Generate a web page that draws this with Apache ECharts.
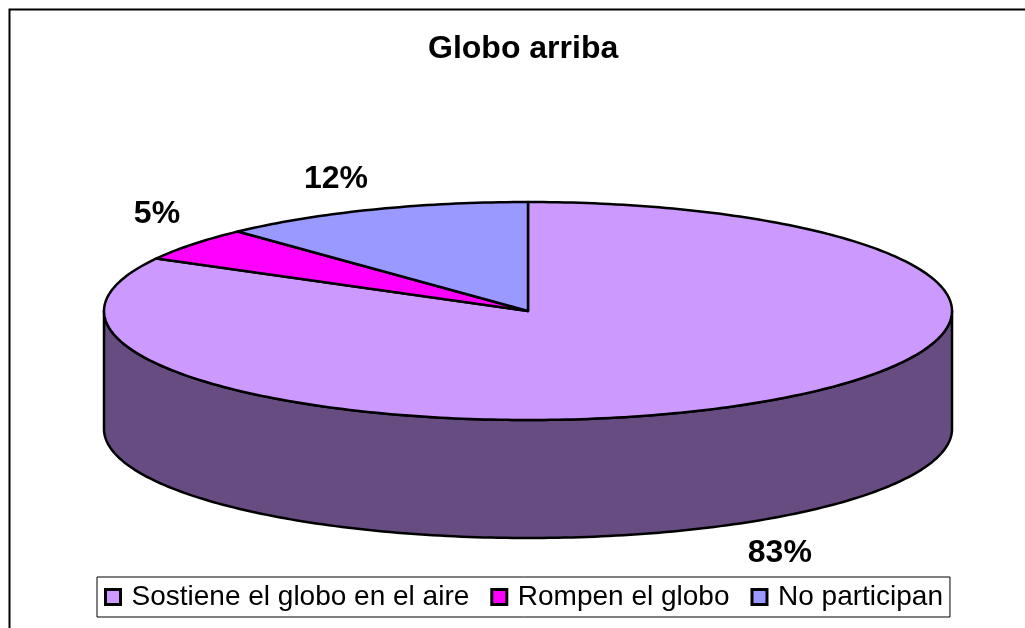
<!DOCTYPE html>
<html>
<head>
<meta charset="utf-8">
<script src="https://cdn.jsdelivr.net/npm/echarts@6/dist/echarts.min.js"></script>
<style>
  html, body { margin: 0; padding: 0; background: #fff; }
  #chart { width: 1025px; height: 628px; }
</style>
</head>
<body>
<div id="chart"></div>
<script>
const categories = ['Sostiene el globo en el aire', 'Rompen el globo', 'No participan'];
const values = [83, 5, 12];
const topColors = ['#CC99FF', '#FF00FF', '#9999FF'];
const sideColors = ['#664C80', '#800080', '#4C4C80'];

const FONT = 'Arial, "Liberation Sans", sans-serif';
// ellipse geometry of the 3d pie
const CX = 528, CY = 311, RX = 424, RY = 109, DEPTH = 118;

const total = values.reduce((a, b) => a + b, 0);
const starts = [];
let acc = 0;
values.forEach(v => { starts.push(acc / total * 360); acc += v; });

function pt(deg, dy) {
    const r = deg * Math.PI / 180;
    return [CX + RX * Math.sin(r), CY - RY * Math.cos(r) + dy];
}

function arc(a0, a1, dy) {
    const pts = [];
    const n = Math.max(2, Math.ceil(Math.abs(a1 - a0)));
    for (let k = 0; k <= n; k++) {
        pts.push(pt(a0 + (a1 - a0) * k / n, dy));
    }
    return pts;
}

function renderSlice(params, api) {
    const i = api.value(0);
    const a0 = starts[i];
    const a1 = a0 + values[i] / total * 360;
    const children = [];

    // front wall, only the part facing the viewer
    const s = Math.max(a0, 90), e = Math.min(a1, 270);
    if (e > s) {
        children.push({
            type: 'polygon',
            shape: {points: arc(s, e, 0).concat(arc(e, s, DEPTH))},
            style: {fill: sideColors[i], stroke: '#000', lineWidth: 2.5, lineJoin: 'round'}
        });
    }
    children.push({
        type: 'polygon',
        shape: {points: [[CX, CY]].concat(arc(a0, a1, 0))},
        style: {fill: topColors[i], stroke: '#000', lineWidth: 2.5, lineJoin: 'round'}
    });

    const mid = (a0 + a1) / 2;
    const sn = Math.sin(mid * Math.PI / 180), cs = Math.cos(mid * Math.PI / 180);
    const edge = pt(mid, cs < 0 ? DEPTH : 0);
    children.push({
        type: 'text',
        z2: 10,
        style: {
            text: Math.round(values[i] / total * 100) + '%',
            x: edge[0] + Math.sign(sn) * 36,
            y: edge[1] - Math.sign(cs) * 30,
            align: 'center',
            verticalAlign: 'middle',
            font: 'bold 32px ' + FONT,
            fill: '#000'
        }
    });
    return {type: 'group', children: children};
}

const chart = echarts.init(document.getElementById('chart'));
chart.setOption({
    animation: false,
    backgroundColor: '#fff',
    title: {
        text: 'Globo arriba',
        left: 423,
        top: 28,
        textStyle: {fontSize: 32, fontWeight: 'bold', fontFamily: FONT, color: '#000'}
    },
    legend: {
        left: 97,
        top: 577,
        padding: [6, 7, 6, 7],
        itemGap: 21,
        itemWidth: 15,
        itemHeight: 15,
        icon: 'rect',
        borderColor: '#000',
        borderWidth: 1,
        selectedMode: false,
        itemStyle: {borderColor: '#000', borderWidth: 3},
        textStyle: {fontSize: 28, fontFamily: FONT, color: '#000', padding: [0, 0, 0, 6]},
        data: categories
    },
    graphic: [{
        type: 'rect',
        left: 7,
        top: 7,
        shape: {width: 1040, height: 640},
        style: {fill: 'none', stroke: '#000', lineWidth: 2}
    }],
    series: categories.map((name, i) => ({
        type: 'custom',
        name: name,
        coordinateSystem: 'none',
        itemStyle: {color: topColors[i]},
        renderItem: renderSlice,
        data: [[i]]
    }))
});
</script>
</body>
</html>
